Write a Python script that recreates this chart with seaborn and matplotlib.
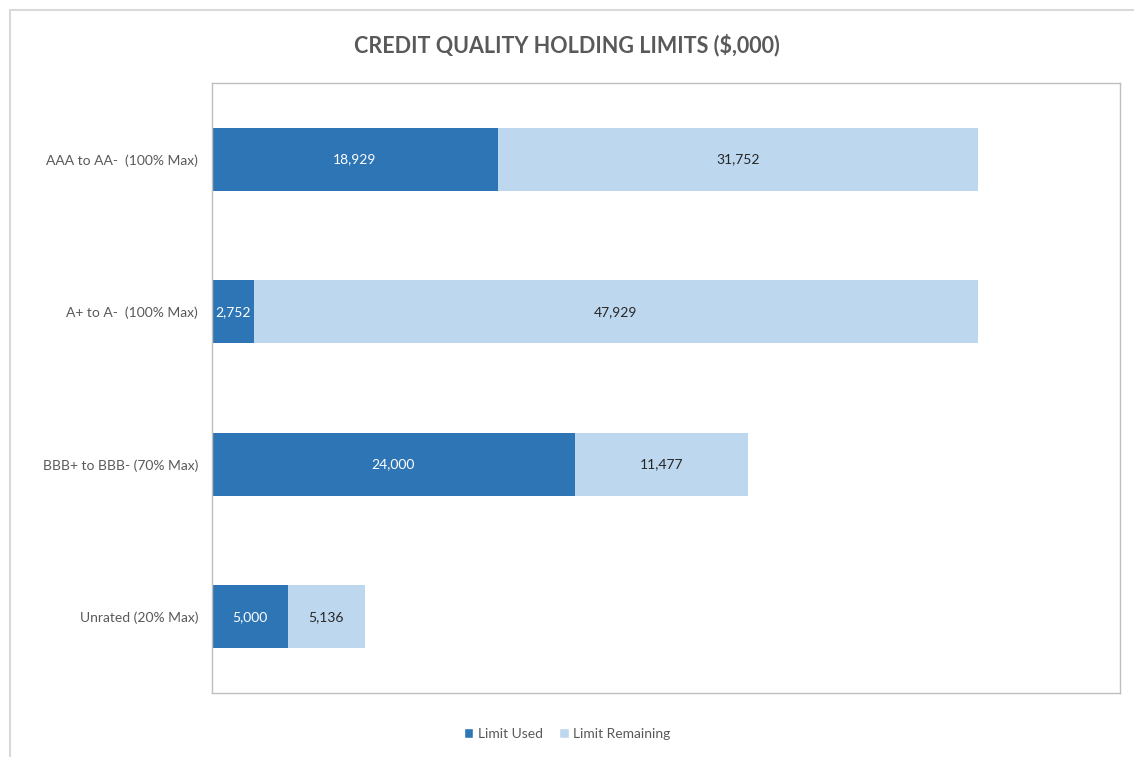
import matplotlib
matplotlib.use("Agg")
import matplotlib.pyplot as plt
import seaborn as sns
import pandas as pd
from matplotlib.patches import Rectangle, Patch

categories = ["AAA to AA-  (100% Max)", "A+ to A-  (100% Max)", "BBB+ to BBB- (70% Max)", "Unrated (20% Max)"]
limit_used = [18929, 2752, 24000, 5000]
limit_remaining = [31752, 47929, 11477, 5136]

sns.set_theme(style="white")
plt.rcParams['font.family'] = ['Lato', 'DejaVu Sans']

dark = "#2E75B6"
light = "#BDD7EE"
grey_text = "#595959"

df = pd.DataFrame({"cat": categories, "used": limit_used, "rem": limit_remaining})
df["total"] = df["used"] + df["rem"]

fig = plt.figure(figsize=(11.34, 7.57), dpi=100)
ax = fig.add_axes([212/1134, 1-693/757, (1120-212)/1134, (693-83)/757])

sns.barplot(data=df, y="cat", x="total", color=light, orient="h", width=0.41, ax=ax,
            saturation=1, linewidth=0)
sns.barplot(data=df, y="cat", x="used", color=dark, orient="h", width=0.41, ax=ax,
            saturation=1, linewidth=0)

for i, (u, r) in enumerate(zip(limit_used, limit_remaining)):
    ax.text(u/2, i, f"{u:,}", ha="center", va="center", color="white", fontsize=10)
    ax.text(u + r/2, i, f"{r:,}", ha="center", va="center", color="#262626", fontsize=10)

ax.set_xlim(0, 60100)
ax.set_ylim(3.5, -0.5)
ax.set_xticks([])
ax.set_xlabel("")
ax.set_ylabel("")
ax.tick_params(axis="y", length=0, pad=10, labelsize=10, labelcolor=grey_text)
for s in ax.spines.values():
    s.set_visible(True)
    s.set_color("#BFBFBF")
    s.set_linewidth(1)

fig.text(0.5, 1-45/757, "CREDIT QUALITY HOLDING LIMITS ($,000)", ha="center", va="center",
         fontsize=15.5, fontweight="bold", color=grey_text)

handles = [Patch(facecolor=dark, label="Limit Used"), Patch(facecolor=light, label="Limit Remaining")]
fig.legend(handles=handles, loc="center", bbox_to_anchor=(0.5, 1-734/757), ncol=2, frameon=False,
           fontsize=10, handlelength=0.7, handleheight=0.7, columnspacing=1.2, handletextpad=0.3,
           labelcolor=grey_text)

fig.patches.append(Rectangle((10/1134, -0.1), 1.1, 1.1-10/757, transform=fig.transFigure,
                             fill=False, edgecolor="#D9D9D9", linewidth=1.5))

fig.savefig("out.png", dpi=100)
